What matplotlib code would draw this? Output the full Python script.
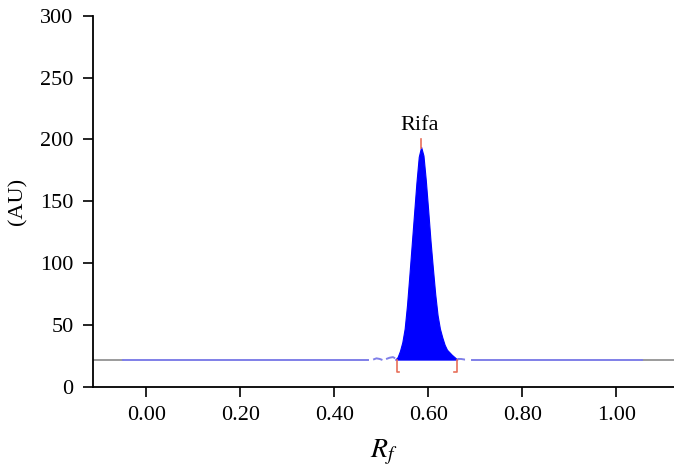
import matplotlib
matplotlib.use("Agg")
import matplotlib.pyplot as plt
import numpy as np

plt.rcParams['font.family'] = ['Liberation Serif', 'DejaVu Serif']
plt.rcParams['mathtext.fontset'] = 'stix'

# Baseline level of the densitogram
baseline = 22

# Solid baseline segments (Rf start, Rf end)
grey_left = [-0.12, -0.05]
blue_left = [-0.05, 0.472]
blue_right = [0.694, 1.055]
grey_right = [1.055, 1.13]

# Dashed wavy baseline pieces around the peak
dash_left_rf = [0.483, 0.490, 0.497, 0.504, 0.511, 0.518, 0.525, 0.530]
dash_left_au = [22, 23, 22.5, 21.5, 22.5, 23.5, 24, 23]
dash_right_rf = [0.662, 0.670, 0.678, 0.686]
dash_right_au = [22.5, 22.5, 22, 22]

# Peak profile (Rifampicin)
peak_rf = [0.530, 0.535, 0.540, 0.545, 0.550, 0.555, 0.560, 0.565, 0.570,
           0.575, 0.580, 0.585, 0.590, 0.595, 0.600, 0.605, 0.610, 0.615,
           0.620, 0.625, 0.630, 0.635, 0.640, 0.650, 0.662]
peak_au = [22, 24, 29, 36, 47, 66, 90, 115, 140,
           165, 186, 194, 187, 167, 143, 118, 96, 75,
           58, 47, 40, 34, 30, 26, 22]

peak_name = "Rifa"
peak_top = 0.585
peak_max_mark = [193, 200]
bounds = [0.533, 0.662]
bracket_bottom = 12

xticks = [0.0, 0.2, 0.4, 0.6, 0.8, 1.0]
yticks = [0, 50, 100, 150, 200, 250, 300]

fig = plt.figure(figsize=(6.74, 4.66), dpi=100)
ax = fig.add_axes([0.138, 0.17, 0.862, 0.796])

blue_line = '#7f7fe8'
grey_line = '#8a8a8a'
ax.plot(grey_left, [baseline]*2, color=grey_line, lw=1.2)
ax.plot(grey_right, [baseline]*2, color=grey_line, lw=1.2)
ax.plot(blue_left, [baseline]*2, color=blue_line, lw=1.4)
ax.plot(blue_right, [baseline]*2, color=blue_line, lw=1.4)
ax.plot(dash_left_rf, dash_left_au, color=blue_line, lw=1.4, ls=(0, (5, 2)))
ax.plot(dash_right_rf, dash_right_au, color=blue_line, lw=1.4, ls=(0, (4, 2)))

ax.fill_between(peak_rf, baseline, peak_au, color='#0000ff', lw=0.8, edgecolor='#0000ff')

red = '#e8705a'
ax.plot([peak_top, peak_top], peak_max_mark, color=red, lw=1.2)
dx = 0.006
ax.plot([bounds[0], bounds[0], bounds[0] + dx], [baseline, bracket_bottom, bracket_bottom], color=red, lw=1.2)
ax.plot([bounds[1], bounds[1], bounds[1] - dx], [baseline, bracket_bottom, bracket_bottom], color=red, lw=1.2)

ax.text(peak_top - 0.003, 204, peak_name, ha='center', va='bottom', fontsize=16)

ax.set_xlim(-0.113, 1.123)
ax.set_ylim(0, 300)
ax.set_xticks(xticks)
ax.set_xticklabels([f"{v:.2f}" for v in xticks])
ax.set_yticks(yticks)
ax.set_yticklabels([str(v) for v in yticks])
ax.tick_params(axis='both', direction='out', length=7, width=1.2, labelsize=16, pad=7, colors='black')
for s in ['top', 'right']:
    ax.spines[s].set_visible(False)
for s in ['left', 'bottom']:
    ax.spines[s].set_linewidth(1.3)

ax.set_xlabel(r'$R_f$', fontsize=20, labelpad=9)
ax.set_ylabel('(AU)', fontsize=16, labelpad=9)

fig.savefig('out.png', dpi=100)
